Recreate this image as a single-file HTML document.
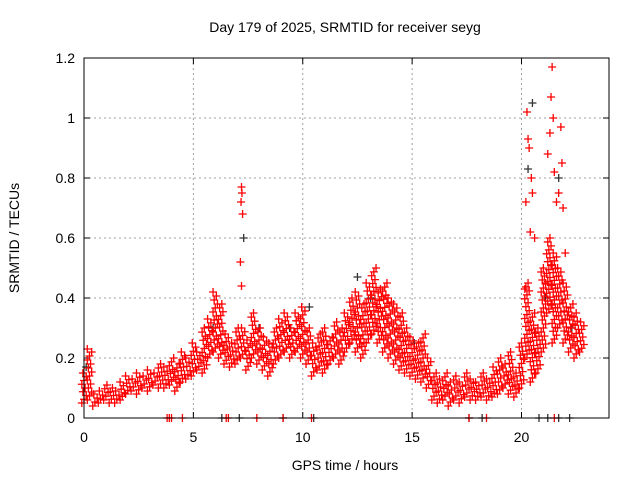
<!DOCTYPE html>
<html><head><meta charset="utf-8"><style>
body{margin:0;background:#fff}
svg{display:block;font-family:"Liberation Sans",sans-serif}
</style></head><body>
<svg id="chart" width="640" height="480" xmlns="http://www.w3.org/2000/svg">
<rect width="640" height="480" fill="#fff"/>
<text x="345" y="32" font-size="14" text-anchor="middle">Day 179 of 2025, SRMTID for receiver seyg</text>
<text x="345" y="470" font-size="14" text-anchor="middle">GPS time / hours</text>
<text transform="translate(19,238) rotate(-90)" font-size="14" text-anchor="middle">SRMTID / TECUs</text>
<g id="grid"></g>
<g id="ticks"></g>
<g id="black"></g>
<g id="red"></g>
<rect x="84" y="58" width="525" height="360" fill="none" stroke="#000" stroke-width="1"/>
</svg>
<script>
const xTicks=[0,5,10,15,20];
const yTicks=[0,0.2,0.4,0.6,0.8,1,1.2];
const yTickLabels=["0","0.2","0.4","0.6","0.8","1","1.2"];
const redHours=[0,0.25,0.5,0.75,1,1.25,1.5,1.75,2,2.25,2.5,2.75,3,3.25,3.5,3.75,4,4.25,4.5,4.75,5,5.25,5.5,5.75,6,6.25,6.5,6.75,7,7.25,7.5,7.75,8,8.25,8.5,8.75,9,9.25,9.5,9.75,10,10.25,10.5,10.75,11,11.25,11.5,11.75,12,12.25,12.5,12.75,13,13.25,13.5,13.75,14,14.25,14.5,14.75,15,15.25,15.5,15.75,16,16.25,16.5,16.75,17,17.25,17.5,17.75,18,18.25,18.5,18.75,19,19.25,19.5,19.75,20,20.25,20.5,20.75,21,21.25,21.5,21.75,22,22.25,22.5,22.75];
const redHigh=[0.15,0.22,0.08,0.09,0.11,0.1,0.09,0.12,0.14,0.13,0.15,0.14,0.16,0.15,0.18,0.17,0.2,0.18,0.22,0.2,0.25,0.22,0.3,0.33,0.42,0.38,0.28,0.25,0.3,0.3,0.26,0.35,0.3,0.27,0.25,0.3,0.33,0.35,0.3,0.35,0.37,0.3,0.25,0.28,0.3,0.27,0.32,0.3,0.35,0.4,0.42,0.38,0.45,0.5,0.43,0.45,0.4,0.38,0.35,0.3,0.27,0.25,0.28,0.2,0.15,0.13,0.15,0.12,0.14,0.12,0.15,0.13,0.12,0.15,0.13,0.17,0.2,0.18,0.22,0.15,0.25,0.45,0.35,0.3,0.5,0.6,0.55,0.5,0.45,0.38,0.35,0.32];
const redLow=[0.05,0.06,0.04,0.05,0.06,0.05,0.05,0.06,0.08,0.09,0.08,0.1,0.09,0.11,0.1,0.1,0.11,0.09,0.12,0.13,0.14,0.16,0.15,0.2,0.22,0.2,0.18,0.17,0.18,0.2,0.16,0.2,0.18,0.16,0.14,0.18,0.2,0.22,0.2,0.22,0.2,0.18,0.14,0.16,0.15,0.18,0.2,0.18,0.22,0.25,0.22,0.2,0.25,0.28,0.25,0.22,0.2,0.18,0.16,0.15,0.14,0.13,0.12,0.1,0.06,0.05,0.06,0.04,0.06,0.05,0.07,0.06,0.06,0.07,0.06,0.07,0.08,0.1,0.08,0.07,0.1,0.2,0.12,0.15,0.22,0.35,0.25,0.3,0.25,0.22,0.2,0.22];
const redSpikeHours=[7.2,7.22,7.18,7.25,7.15,7.2,20.2,20.25,20.3,20.35,20.4,20.45,20.5,20.6,21.1,21.2,21.3,21.35,21.4,21.45,21.5,21.6,21.7,21.8,21.85,21.9,22.0,20.15,0.15,3.8,3.9,4.0,4.5,6.5,6.6,7.9,9.1,10.4,17.6,18.4,21.5];
const redSpikeValues=[0.77,0.75,0.72,0.68,0.52,0.44,0.72,1.02,0.93,0.9,0.62,0.8,0.75,0.6,0.45,0.88,0.95,1.07,1.17,1.0,0.82,0.72,0.75,0.97,0.85,0.7,0.55,0.43,0.23,0,0,0,0,0,0,0,0,0,0,0,0];
const blackHours=[0.1,5.9,7.3,8.0,9.4,10.3,12.5,13.1,15.1,20.3,20.5,21.1,21.7,22.3,6.3,7.1,9.1,10.5,17.6,18.2,20.8,21.2,21.7,22.2];
const blackValues=[0.17,0.3,0.6,0.3,0.3,0.37,0.47,0.4,0.25,0.83,1.05,0.4,0.8,0.3,0,0,0,0,0,0,0,0,0,0];

const X0=84,X1=609,Y0=418,Y1=58,XMAX=24,YMAX=1.2;
const sx=v=>X0+(X1-X0)*v/XMAX;
const sy=v=>Y0-(Y0-Y1)*v/YMAX;
const NS="http://www.w3.org/2000/svg";
function mk(tag,attrs,parent){const e=document.createElementNS(NS,tag);for(const k in attrs)e.setAttribute(k,attrs[k]);parent.appendChild(e);return e;}
const grid=document.getElementById('grid'),ticks=document.getElementById('ticks');
xTicks.forEach(t=>{
  const x=sx(t);
  if(t>0){const g=mk('line',{x1:x,x2:x,y1:Y1,y2:Y0,stroke:'#a0a0a0','stroke-dasharray':'2,3'},grid);
  
  }
  mk('line',{x1:x,x2:x,y1:Y0,y2:Y0-6,stroke:'#000'},ticks);
  mk('line',{x1:x,x2:x,y1:Y1,y2:Y1+6,stroke:'#000'},ticks);
  const l=mk('text',{x:x,y:Y0+24,'font-size':14,'text-anchor':'middle'},ticks);l.textContent=t;
  
  
});
yTicks.forEach((t,i)=>{
  const y=sy(t);
  if(t>0&&t<YMAX){const g=mk('line',{x1:X0,x2:X1,y1:y,y2:y,stroke:'#a0a0a0','stroke-dasharray':'2,3'},grid);
  
  }
  mk('line',{x1:X0,x2:X0+6,y1:y,y2:y,stroke:'#000'},ticks);
  mk('line',{x1:X1,x2:X1-6,y1:y,y2:y,stroke:'#000'},ticks);
  const l=mk('text',{x:X0-9,y:y+5,'font-size':14,'text-anchor':'end'},ticks);l.textContent=yTickLabels[i];
  
  
});
function plus(g,t,v,col){
  const x=sx(t),y=sy(v);
  const p=mk('path',{d:`M${x-4},${y}H${x+4}M${x},${y-4}V${y+4}`,stroke:col,'stroke-width':1.3},g);
  
  
}
const bg=document.getElementById('black'),rg=document.getElementById('red');
blackHours.forEach((t,i)=>plus(bg,t,blackValues[i],'#333'));
redHours.forEach((t,i)=>{
  const lo=redLow[i],hi=redHigh[i];
  const n=Math.max(2,Math.round((sy(lo)-sy(hi))/4));
  for(let k=0;k<=n;k++){
    const v=lo+(hi-lo)*k/n;
    plus(rg,t+(((k*7)%5)-2)*0.05,v,'#f00');
  }
});
redSpikeHours.forEach((t,i)=>plus(rg,t,redSpikeValues[i],'#f00'));
</script>
</body></html>
